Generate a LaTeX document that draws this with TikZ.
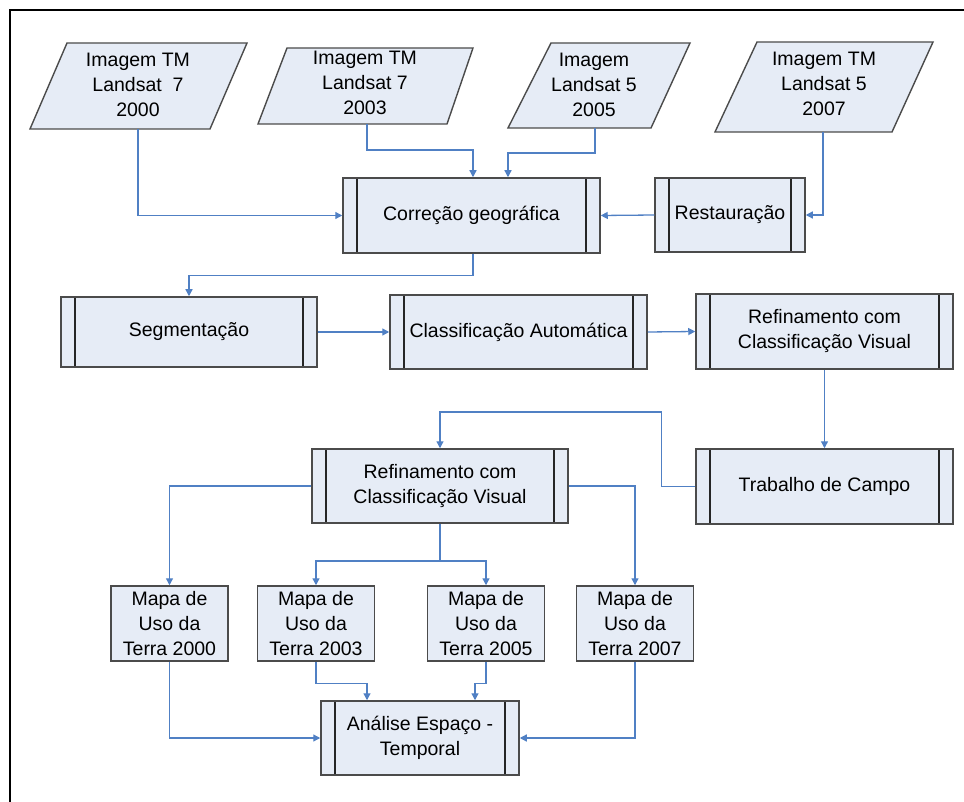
\documentclass[tikz,border=0pt]{standalone}
\usepackage{fontspec}
\setmainfont{Liberation Sans}
\usetikzlibrary{arrows.meta}
\definecolor{boxfill}{RGB}{230,236,246}
\definecolor{boxline}{RGB}{75,75,75}
\definecolor{conn}{RGB}{80,128,196}
\tikzset{
  txt/.style={font=\fontsize{19.5}{25}\selectfont, align=center, inner sep=0pt},
  para/.style={draw=boxline, fill=boxfill, line width=1.4pt, line join=miter},
  procbox/.style={draw=boxline, fill=boxfill, line width=1.5pt, txt, minimum width=#1,
    path picture={
      \draw[black!85, line width=1.1pt] ([xshift=14pt]path picture bounding box.north west) -- ([xshift=14pt]path picture bounding box.south west);
      \draw[black!85, line width=1.1pt] ([xshift=-14pt]path picture bounding box.north east) -- ([xshift=-14pt]path picture bounding box.south east);
    }},
  mapbox/.style={draw=boxline, fill=boxfill, line width=1.5pt, txt, minimum width=117pt, minimum height=75pt},
  link/.style={draw=conn, line width=1.3pt, -{Triangle[length=7pt,width=7pt]}},
  plain/.style={draw=conn, line width=1.3pt}
}
\begin{document}
\begin{tikzpicture}[x=1pt,y=-1pt]
\useasboundingbox (0,0) rectangle (964,802);
% frame
\draw[black, line width=2.6pt] (10,802) -- (10,10) -- (964,10);

% parallelograms (inputs)
\path[para] (67,43) -- (247,43) -- (210,129) -- (30,129) -- cycle;
\path[para] (287,48) -- (473,48) -- (447,124) -- (258,124) -- cycle;
\path[para] (551,43) -- (690,43) -- (651,128) -- (508,128) -- cycle;
\path[para] (757,42) -- (933,42) -- (892,132) -- (715,132) -- cycle;
\node[txt] (p1) at (138,85) {Imagem TM\\Landsat\ \ 7\\2000};
\node[txt] (p2) at (365,83) {Imagem TM\\Landsat 7\\2003};
\node[txt] (p3) at (594,85) {Imagem\\Landsat 5\\2005};
\node[txt] (p4) at (824,84) {Imagem TM\\Landsat 5\\2007};
\coordinate (p1b) at (138,129);
\coordinate (p2b) at (367,124);
\coordinate (p3b) at (595,128);
\coordinate (p4b) at (823,132);

% process boxes
\node[procbox=257pt, minimum height=75pt] (corr) at (471.5,215.5) {Correção geográfica};
\node[procbox=150pt, minimum height=74pt] (rest) at (730,215) {Restauração};
\node[procbox=256pt, minimum height=70pt] (seg) at (189,332) {Segmentação};
\node[procbox=257pt, minimum height=74pt] (cls) at (518.5,332) {Classificação Automática};
\node[procbox=257pt, minimum height=75pt] (ref1) at (824.5,331.5) {Refinamento com\\Classificação Visual};
\node[procbox=257pt, minimum height=75pt] (trab) at (824.5,486.5) {Trabalho de Campo};
\node[procbox=256pt, minimum height=74pt] (ref2) at (440,486) {Refinamento com\\Classificação Visual};
\node[mapbox] (m1) at (169.5,623.5) {Mapa de\\Uso da\\Terra 2000};
\node[mapbox] (m2) at (316,623.5) {Mapa de\\Uso da\\Terra 2003};
\node[mapbox] (m3) at (486,623.5) {Mapa de\\Uso da\\Terra 2005};
\node[mapbox] (m4) at (635,623.5) {Mapa de\\Uso da\\Terra 2007};
\node[procbox=198pt, minimum height=74pt] (anal) at (420,738) {Análise Espaço -\\Temporal};

% connectors
\draw[link] (p1b) |- (corr.west);
\draw[link] (p2b) -- ++(0,26) -| ([xshift=1.5pt]corr.north);
\draw[link] (p3b) -- ++(0,25) -| ([xshift=36.5pt]corr.north);
\draw[link] (p4b) |- (rest.east);
\draw[link] (rest.west) -- (corr.east);
\draw[link] ([xshift=1.5pt]corr.south) -- ++(0,22) -| (seg.north);
\draw[link] (seg.east) -- (cls.west);
\draw[link] (cls.east) -- (ref1.west);
\draw[link] (ref1.south) -- (trab.north);
\draw[link] (trab.west) -- ++(-34,0) |- (440,412) -- (ref2.north);
\draw[link] (ref2.west) -| (m1.north);
\draw[link] (ref2.east) -| (m4.north);
\draw[plain] (ref2.south) -- (440,561);
\draw[link] (440,561) -| (m2.north);
\draw[link] (440,561) -| (m3.north);
\draw[link] (m1.south) |- (anal.west);
\draw[link] (m2.south) -- ++(0,22) -| ([xshift=-53pt]anal.north);
\draw[link] (m3.south) -- ++(0,22) -| ([xshift=55pt]anal.north);
\draw[link] (m4.south) |- (anal.east);
\end{tikzpicture}
\end{document}
